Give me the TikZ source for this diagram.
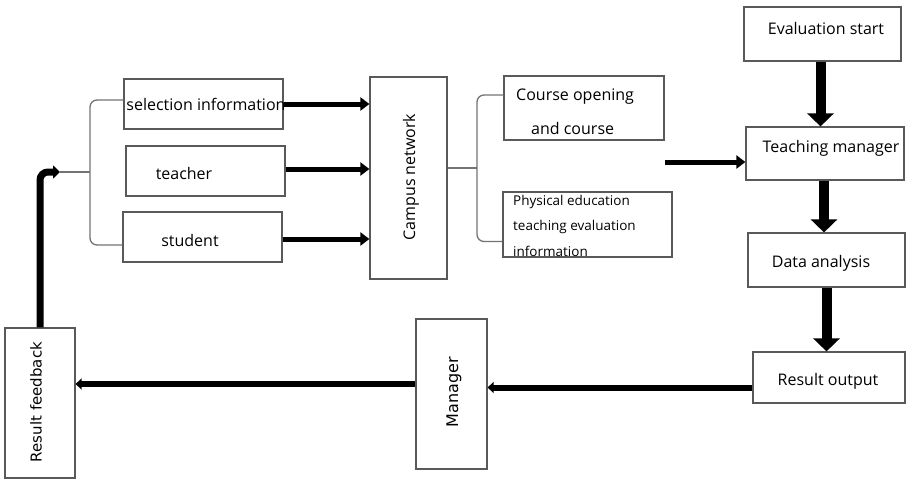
\documentclass[tikz,border=0pt]{standalone}
\usepackage{fontspec}
\setmainfont{Open Sans}
\newfontfamily\vfont{DejaVu Sans}
\usetikzlibrary{arrows.meta}

\begin{document}
\begin{tikzpicture}[x=1pt, y=-1pt,
  box/.style={draw=black!65, line width=1.2pt, inner sep=0pt},
  lbl/.style={inner sep=0pt, font=\fontsize{16}{19}\selectfont},
  small/.style={inner sep=0pt, font=\fontsize{13.5}{25.5}\selectfont, align=left},
  brace/.style={draw=black!55, line width=1.3pt, rounded corners=7pt},
  harrow/.style={line width=5pt, -{Triangle[length=9pt,width=13pt]}},
  varrow/.style={line width=10pt, -{Triangle[length=13pt,width=26pt]}},
  barrow/.style={line width=6pt, -{Triangle[length=6pt,width=11pt]}}]
\useasboundingbox (0,0) rectangle (906,480);

\node [box, minimum width=159pt, minimum height=50pt] (sel) at (203.5,104) {};
\node [box, minimum width=159pt, minimum height=50pt] (teacher) at (205.5,171) {};
\node [box, minimum width=159pt, minimum height=50pt] (student) at (202.5,237) {};
\node [box, minimum width=77pt, minimum height=202pt] (campus) at (408.5,178) {};
\node [box, minimum width=160pt, minimum height=64pt] (course) at (584,108) {};
\node [box, minimum width=169pt, minimum height=65pt] (phys) at (587.5,224.5) {};

\node [box, minimum width=157pt, minimum height=54pt] (eval) at (822.5,34) {};
\node [box, minimum width=158pt, minimum height=53pt] (teach) at (825,153.5) {};
\node [box, minimum width=157pt, minimum height=54pt] (data) at (826.5,260) {};
\node [box, minimum width=152pt, minimum height=51pt] (res) at (829,377.5) {};
\node [box, minimum width=71pt, minimum height=150pt] (man) at (451.5,394) {};
\node [box, minimum width=70pt, minimum height=150pt] (fb) at (40,403) {};

\node [lbl] (sel-t) at (206,104) {selection information};
\node [lbl] (teacher-t) at (184,173) {teacher};
\node [lbl] (student-t) at (190,240) {student};
\node [lbl, rotate=90] (campus-t) at (411,177) {Campus network};
\node [lbl, anchor=west] (course-t1) at (516,97) {Course opening};
\node [lbl, anchor=west] (course-t2) at (531,128) {and course};
\node [small, anchor=north west] (phys-t) at (513,195) {Physical education\\teaching evaluation\\information};

\node [lbl] (eval-t) at (826,28) {Evaluation start};
\node [lbl] (teach-t) at (831,148) {Teaching manager};
\node [lbl] (data-t) at (821,263) {Data analysis};
\node [lbl] (res-t) at (828,381) {Result output};
\node [lbl, rotate=90, font=\vfont\fontsize{16}{19}\selectfont] (man-t) at (454,392) {Manager};
\node [lbl, rotate=90, font=\vfont\fontsize{15}{18}\selectfont] (fb-t) at (36,402) {Result feedback};

\coordinate (join) at (60,172);
\coordinate (lb) at (90,172);
\coordinate (rb) at (477,168);
\coordinate (src) at (665,162);

\draw [brace] ([yshift=4pt]sel.west) -| (lb) |- ([yshift=-8pt]student.west);
\draw [brace] (lb) -- (join);
\draw [brace] (campus.east |- rb) -- (rb);
\draw [brace] ([yshift=13pt]course.west) -| (rb) |- ([yshift=-17pt]phys.west);

\draw [harrow] (sel.east) -- (sel.east -| campus.west);
\draw [harrow] ([yshift=2pt]teacher.east) -- ([yshift=2pt]teacher.east -| campus.west);
\draw [harrow] ([yshift=-2pt]student.east) -- ([yshift=-2pt]student.east -| campus.west);
\draw [harrow] (src) -- (src -| teach.west);

\draw [varrow] ([xshift=-2pt]eval.south) -- ([xshift=-2pt]eval.south |- teach.north);
\draw [varrow] ([xshift=-1pt]teach.south) -- ([xshift=-1pt]teach.south |- data.north);
\draw [varrow] (data.south) -- (data.south |- res.north);

\draw [barrow] ([yshift=-10pt]res.west) -- ([yshift=-10pt]res.west -| man.east);
\draw [barrow] ([yshift=10pt]man.west) -- ([yshift=10pt]man.west -| fb.east);
\draw [line width=7pt, rounded corners=8pt, -{Triangle[length=7pt,width=13pt]}] (fb.north) |- (join);

\end{tikzpicture}
\end{document}
